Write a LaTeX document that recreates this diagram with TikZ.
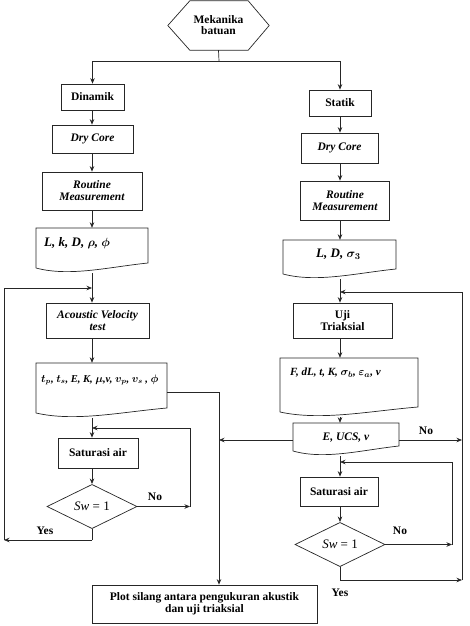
\documentclass[tikz,border=0pt]{standalone}
\usepackage{fontspec}
\setmainfont{Liberation Serif}
\usetikzlibrary{arrows.meta,shapes.geometric,calc}
\newcommand\fs{\fontsize{11.5}{13}\selectfont}
\newcommand\docnode[5]{%
 \node[inner sep=0, minimum width={#4-#2}, minimum height={#5-#3}] (#1) at ({(#2+#4)/2},{(#3+#5)/2}) {};
 \draw[ln] (#2,{#5-5}) -- (#2,#3) -- (#4,#3) -- (#4,{#5-10}) .. controls ({#2+0.65*(#4-#2)},{#5-6}) and ({#2+0.3*(#4-#2)},{#5+4}) .. (#2,{#5-5});
}
\tikzset{
 ln/.style={line width=0.7pt, draw=black!85},
 arr/.style={ln, -{Stealth[length=5.5pt,width=4.5pt]}},
 proc/.style={draw=black!85, line width=0.7pt, inner sep=1pt, align=center, font=\fs\bfseries},
 iproc/.style={proc, font=\fs\bfseries\itshape},
 lbl/.style={font=\fs\bfseries, inner sep=0},
 dtxt/.style={inner sep=0, font=\fs\bfseries\itshape, anchor=west},
 dec/.style={draw=black!85, line width=0.7pt, diamond, inner sep=0, font=\fontsize{13}{15}\selectfont},
}
\begin{document}
\begin{tikzpicture}[x=1pt,y=-1pt]
\useasboundingbox (0,0) rectangle (470,626);
% hexagon
\node[inner sep=0, minimum width=101, minimum height=49, align=center, font=\fs\bfseries] (hex) at (218.5,25.5) {Mekanika\\[-2pt]batuan};
\draw[ln] (hex.west) -- ([xshift=22pt]hex.north west) -- ([xshift=-21pt]hex.north east) -- (hex.east) -- ([xshift=-21pt]hex.south east) -- ([xshift=22pt]hex.south west) -- cycle;
\coordinate (jtop) at (219,61);
% left column
\node[proc, minimum width=63, minimum height=26] (din) at (92.5,97) {Dinamik};
\node[iproc, minimum width=81, minimum height=28] (dry1) at (92.5,139) {Dry Core};
\node[iproc, minimum width=100, minimum height=38] (rm1) at (92,191) {Routine\\[-1pt]Measurement};
\docnode{doc1}{36}{228}{148}{273}
\node[dtxt, font=\fontsize{13}{15}\selectfont\bfseries\itshape] (t1) at (44,243) {L, k, D, {\boldmath$\rho$}, {\boldmath$\phi$}};
\coordinate (j1) at (92,288);
\node[iproc, minimum width=103, minimum height=35] (av) at (97.5,320.5) {Acoustic Velocity\\[-1pt]test};
\docnode{doc2}{36}{363}{167}{418}
\node[dtxt, font=\fontsize{10.5}{12}\selectfont\bfseries\itshape] (t2) at (41,380) {{\boldmath$t_p$}, {\boldmath$t_s$}, E, K, {\boldmath$\mu$},v, {\boldmath$v_p$}, {\boldmath$v_s$} , {\boldmath$\phi$}};
\node[proc, minimum width=80, minimum height=30] (sat1) at (98,453) {Saturasi air};
\node[dec, minimum width=90, minimum height=37] (dia1) at (92,506.5) {\itshape Sw\upshape{} = 1};
\coordinate (c1) at (190,506.5);
\coordinate (j2) at (92,428);
\coordinate (c2) at (92,540);
\coordinate (c3) at (4,540);
\coordinate (c4) at (219,392);
\node[lbl] (no1) at (155,497) {No};
\node[lbl] (yes1) at (45,531) {Yes};
% right column
\node[proc, minimum width=62, minimum height=26] (stat) at (340,103) {Statik};
\node[iproc, minimum width=77, minimum height=30] (dry2) at (339.5,148) {Dry Core};
\node[iproc, minimum width=89, minimum height=39] (rm2) at (345,200.5) {Routine\\[-1pt]Measurement};
\docnode{doc3}{283}{240}{396}{279}
\node[dtxt, font=\fontsize{13}{15}\selectfont\bfseries\itshape] (t3) at (316,254) {L, D, {\boldmath$\sigma_3$}};
\coordinate (j3) at (340,292);
\node[proc, minimum width=99, minimum height=35] (uji) at (342.5,320.5) {Uji\\[-1pt]Triaksial};
\docnode{doc4}{280}{358}{418}{417}
\node[dtxt, font=\fontsize{11}{13}\selectfont\bfseries\itshape] (t4) at (290,373) {F, dL, t, K, {\boldmath$\sigma_b$}, {\boldmath$\varepsilon_a$}, v};
\docnode{ucs}{293}{423}{399}{456}
\node[inner sep=0, font=\fs\bfseries\itshape] (t5) at (346,438) {E, UCS, v};
\coordinate (c5) at (219,440);
\coordinate (c6) at (462,440);
\node[proc, minimum width=78, minimum height=29] (sat2) at (339,491.5) {Saturasi air};
\node[dec, minimum width=90, minimum height=37] (dia2) at (340,544.5) {\itshape Sw\upshape{} = 1};
\coordinate (c7) at (452,544.5);
\coordinate (j4) at (340,462);
\coordinate (c8) at (340,580);
\coordinate (c9) at (462,580);
\node[lbl] (no2) at (426,431) {No};
\node[lbl] (no3) at (400,531) {No};
\node[lbl] (yes2) at (340,593) {Yes};
% bottom
\node[proc, minimum width=225, minimum height=38] (plot) at (204.5,604) {Plot silang antara pengukuran akustik\\[-1pt]dan uji triaksial};
% connectors top
\draw[ln] (hex.south) -- (jtop);
\draw[arr] (jtop) -| (din.north);
\draw[arr] (jtop) -| (stat.north);
% left connectors
\draw[arr] (din.south -| j1) -- (dry1.north -| j1);
\draw[arr] (dry1.south -| j1) -- (rm1.north -| j1);
\draw[arr] (rm1.south -| j1) -- (doc1.north -| j1);
\draw[ln] (doc1.south -| j1) -- (j1);
\draw[arr] (j1) -- (av.north -| j1);
\draw[arr] (av.south -| j1) -- (doc2.north -| j1);
\draw[arr] (doc2.south -| j1) -- (sat1.north -| j1);
\draw[arr] (sat1.south -| j1) -- (dia1.north);
\draw[arr] (dia1.east) -- (c1);
\draw[arr] (c1) |- (j2);
\draw[ln] (dia1.south) -- (c2);
\draw[arr] (c2) -- (c3);
\draw[arr] (c3) |- (j1);
\draw[ln] (doc2.east |- c4) -- (c4);
\draw[arr] (c4) -- (plot.north -| c4);
% right connectors
\draw[arr] (stat.south) -- (dry2.north -| stat);
\draw[arr] (dry2.south -| stat) -- (rm2.north -| stat);
\draw[arr] (rm2.south -| stat) -- (doc3.north -| stat);
\draw[ln] (doc3.south -| stat) -- (j3);
\draw[arr] (j3) -- (uji.north -| j3);
\draw[arr] (uji.south -| j3) -- (doc4.north -| j3);
\draw[arr] (doc4.south -| j3) -- (ucs.north -| j3);
\draw[arr] (ucs.west |- c5) -- (c5);
\draw[arr] (ucs.east |- c6) -- (c6);
\draw[arr] (ucs.south -| j3) -- (sat2.north -| j3);
\draw[arr] (sat2.south -| j3) -- (dia2.north);
\draw[arr] (dia2.east) -- (c7);
\draw[arr] (c7) |- (j4);
\draw[ln] (dia2.south) -- (c8);
\draw[arr] (c8) -- (c9);
\draw[arr] (c9) |- (j3);
\end{tikzpicture}
\end{document}
